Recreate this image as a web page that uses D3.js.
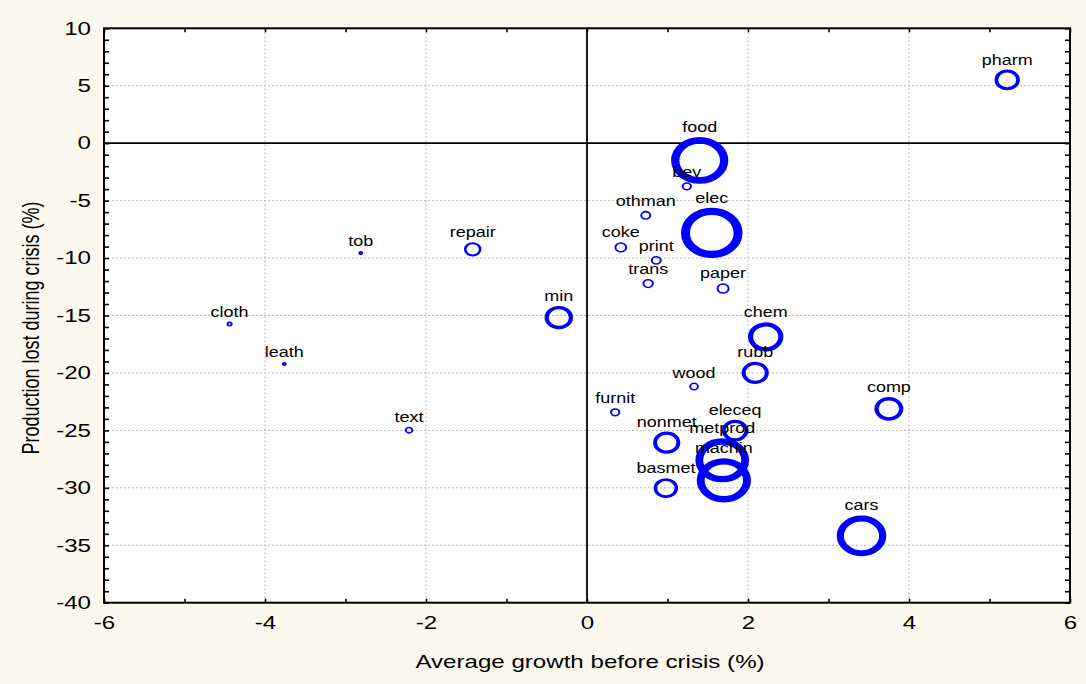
<!DOCTYPE html>
<html>
<head>
<meta charset="utf-8">
<script src="https://cdn.jsdelivr.net/npm/d3@7"></script>
<style>
  html, body { margin: 0; padding: 0; background: #fcf8ed; }
  svg { display: block; }
  text { font-family: "Liberation Sans", Arial, sans-serif; fill: #000; }
</style>
</head>
<body>
<svg id="chart" width="1086" height="684"></svg>
<script>
// Industry sectors: growth before the crisis vs. production lost during it
const sectors = ["pharm","food","bev","othman","elec","coke","print","trans","paper","tob",
  "repair","min","cloth","leath","text","chem","rubb","wood","furnit","comp",
  "eleceq","nonmet","metprod","machin","basmet","cars"];
const growthBefore = [5.22, 1.40, 1.24, 0.73, 1.55, 0.42, 0.86, 0.76, 1.69, -2.81,
  -1.42, -0.35, -4.44, -3.76, -2.21, 2.22, 2.09, 1.33, 0.35, 3.75,
  1.84, 0.99, 1.68, 1.70, 0.98, 3.41];
const lostDuringCrisis = [5.51, -1.50, -3.76, -6.28, -7.81, -9.07, -10.20, -12.22, -12.65, -9.57,
  -9.24, -15.18, -15.75, -19.23, -24.98, -16.86, -19.99, -21.18, -23.43, -23.12,
  -25.02, -26.07, -27.61, -29.35, -30.03, -34.18];
const sectorWeight = [16.2, 83, 2.4, 2.8, 96, 4.0, 2.8, 3.1, 4.3, 0.3,
  7.7, 20.5, 0.6, 0.3, 1.5, 31.8, 18.7, 2.1, 2.4, 21.2,
  17.8, 18.7, 73, 74.5, 15.1, 62.5];
const xTicks = [-6, -4, -2, 0, 2, 4, 6];
const yTicks = [10, 5, 0, -5, -10, -15, -20, -25, -30, -35, -40];
const xTitle = "Average growth before crisis (%)";
const yTitle = "Production lost during crisis (%)";

const data = sectors.map((name, i) => ({
  name, gx: growthBefore[i], loss: lostDuringCrisis[i], w: sectorWeight[i]
}));

const svg = d3.select("#chart");
const W = 1086, H = 684;
const plot = { left: 104, right: 1070, top: 28.3, bottom: 602.7 };
const stretchAxis = 1.34;   // wide axis lettering
const stretchMark = 1.22;   // wide bubbles
const stretchLabel = 1.24;  // wide bubble labels
const plainNumber = d => String(d);  // ASCII hyphen for negatives

const x = d3.scaleLinear().domain([-6, 6]).range([plot.left, plot.right]);
const y = d3.scaleLinear().domain([-40, 10]).range([plot.bottom, plot.top]);
const r = d3.scaleSqrt().domain([0, 100]).range([0, 22]);
const strokeW = d => Math.max(1.6, 0.34 * r(d.w));

svg.append("rect").attr("width", W).attr("height", H).attr("fill", "#fcf8ed");
svg.append("rect")
  .attr("x", plot.left).attr("y", plot.top)
  .attr("width", plot.right - plot.left).attr("height", plot.bottom - plot.top)
  .attr("fill", "#fff");

// dotted grid
const grid = svg.append("g").attr("stroke", "#b8b8b8").attr("stroke-width", 1)
  .attr("stroke-dasharray", "2,2");
grid.selectAll(".gx").data(xTicks.filter(v => v > -6 && v < 6 && v !== 0)).join("line")
  .attr("x1", d => x(d)).attr("x2", d => x(d))
  .attr("y1", plot.top).attr("y2", plot.bottom);
grid.selectAll(".gy").data(yTicks.filter(v => v > -40 && v < 10 && v !== 0)).join("line")
  .attr("y1", d => y(d)).attr("y2", d => y(d))
  .attr("x1", plot.left).attr("x2", plot.right);

// zero reference lines
svg.append("line").attr("x1", x(0)).attr("x2", x(0)).attr("y1", plot.top).attr("y2", plot.bottom)
  .attr("stroke", "#000").attr("stroke-width", 1.8);
svg.append("line").attr("y1", y(0)).attr("y2", y(0)).attr("x1", plot.left).attr("x2", plot.right)
  .attr("stroke", "#000").attr("stroke-width", 1.8);

// inward unit ticks on all four sides
const minorX = d3.range(-6, 7, 1);
const minorY = d3.range(-40, 11, 1);
const tickStyle = g => {
  g.select(".domain").remove();
  g.selectAll(".tick line").attr("stroke", "#000").attr("stroke-width", 1.6);
};
svg.append("g").attr("transform", `translate(0,${plot.bottom})`)
  .call(d3.axisBottom(x).tickValues(minorX).tickSize(-4).tickSizeOuter(0).tickFormat(""))
  .call(tickStyle);
svg.append("g").attr("transform", `translate(0,${plot.top})`)
  .call(d3.axisTop(x).tickValues(minorX).tickSize(-4).tickSizeOuter(0).tickFormat(""))
  .call(tickStyle);
svg.append("g").attr("transform", `translate(${plot.left},0)`)
  .call(d3.axisLeft(y).tickValues(minorY).tickSize(-5).tickSizeOuter(0).tickFormat(""))
  .call(tickStyle);
svg.append("g").attr("transform", `translate(${plot.right},0)`)
  .call(d3.axisRight(y).tickValues(minorY).tickSize(-5).tickSizeOuter(0).tickFormat(""))
  .call(tickStyle);

// tick labels
const xLab = svg.append("g").attr("transform", `translate(0,${plot.bottom})`)
  .call(d3.axisBottom(x).tickValues(xTicks).tickSize(0).tickPadding(14).tickFormat(plainNumber));
xLab.select(".domain").remove();
xLab.selectAll("text").attr("font-size", 18).attr("font-family", "Liberation Sans, Arial, sans-serif")
  .attr("fill", "#000").attr("transform", `scale(${stretchAxis},1)`)
  .attr("x", 0);

const yLab = svg.append("g").attr("transform", `translate(${plot.left},0)`)
  .call(d3.axisLeft(y).tickValues(yTicks).tickSize(0).tickPadding(13).tickFormat(plainNumber));
yLab.select(".domain").remove();
yLab.selectAll("text").attr("font-size", 18).attr("font-family", "Liberation Sans, Arial, sans-serif")
  .attr("fill", "#000").attr("transform", `scale(${stretchAxis},1)`)
  .attr("x", -13 / stretchAxis);

// frame
svg.append("rect")
  .attr("x", plot.left).attr("y", plot.top)
  .attr("width", plot.right - plot.left).attr("height", plot.bottom - plot.top)
  .attr("fill", "none").attr("stroke", "#000").attr("stroke-width", 2);

// bubbles
svg.append("clipPath").attr("id", "plotclip").append("rect")
  .attr("x", plot.left).attr("y", plot.top)
  .attr("width", plot.right - plot.left).attr("height", plot.bottom - plot.top);
const bubbles = svg.append("g").attr("clip-path", "url(#plotclip)");
bubbles.selectAll("circle").data(data).join("circle")
  .attr("transform", d => `translate(${x(d.gx)},${y(d.loss)}) scale(${stretchMark},1)`)
  .attr("r", d => r(d.w))
  .attr("fill", "none")
  .attr("stroke", "#0000ff")
  .attr("stroke-width", d => strokeW(d));

// bubble labels
svg.append("g").selectAll("text").data(data).join("text")
  .attr("transform", d => `translate(${x(d.gx)},${y(d.loss) - r(d.w) - strokeW(d) / 2 - 5}) scale(${stretchLabel},1)`)
  .attr("text-anchor", "middle")
  .attr("font-size", 14.5)
  .text(d => d.name);

// axis titles
svg.append("text")
  .attr("transform", `translate(${(plot.left + plot.right) / 2 + 3},668) scale(${stretchAxis},1)`)
  .attr("text-anchor", "middle").attr("font-size", 18)
  .text(xTitle);
svg.append("text")
  .attr("transform", `translate(39,328) scale(${stretchAxis},1) rotate(-90)`)
  .attr("text-anchor", "middle").attr("font-size", 18)
  .text(yTitle);
</script>
</body>
</html>
